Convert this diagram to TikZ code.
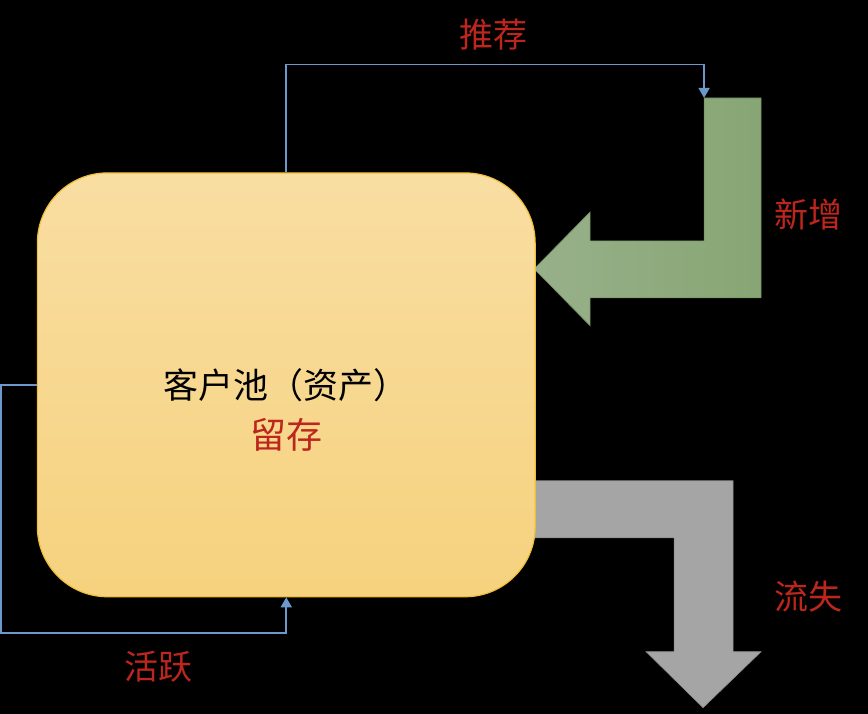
\documentclass[tikz,border=0pt]{standalone}
\usepackage{fontspec}
\newfontfamily\cjk{Noto Sans CJK SC}
\usetikzlibrary{arrows.meta,positioning}
\definecolor{flowred}{RGB}{188,38,28}
\definecolor{linkblue}{RGB}{108,152,204}
\definecolor{poolgold}{RGB}{240,190,60}
\begin{document}
\begin{tikzpicture}
[x=1pt,y=-1pt,%
  pool/.style={rectangle,rounded corners=70pt,minimum width=498pt,minimum height=424pt,
    draw=poolgold,line width=1.2pt,top color={rgb,255:red,249;green,222;blue,162},
    bottom color={rgb,255:red,246;green,210;blue,126}},%
  title/.style={font=\cjk\fontsize{35}{40}\selectfont,text=black,inner sep=0pt},%
  lbl/.style={font=\cjk\fontsize{34}{40}\selectfont,text=flowred,inner sep=0pt},%
  link/.style={draw=linkblue,line width=1.6pt,-{Triangle[length=10pt,width=11pt]}},%
  newflow/.style={left color={rgb,255:red,152;green,176;blue,138},
    right color={rgb,255:red,135;green,166;blue,116},draw={rgb,255:red,110;green,135;blue,92},line width=0.6pt},%
  lostflow/.style={fill={rgb,255:red,165;green,165;blue,165},draw={rgb,255:red,140;green,140;blue,140},line width=0.6pt}]
\fill[black] (0,0) rectangle (868,714);
\path[newflow] (704,98) -- (761,98) -- (761,298) -- (590,298) -- (590,326) -- (534,269)
  -- (590,212) -- (590,241) -- (704,241) -- cycle;
\coordinate (newin) at (704,98);
\path[lostflow] (533,481) -- (733,481) -- (733,652) -- (761,652) -- (703,708)
  -- (646,652) -- (674,652) -- (674,538) -- (533,538) -- cycle;
\node[pool] (pool) at (286,385) {};
\node[title] (pooltitle) at (pool.center) {客户池（资产）};
\node[lbl,font=\cjk\fontsize{36}{40}\selectfont,below=16pt of pooltitle] (keep) {留存};
\node[lbl] (recommend) at (493,35) {推荐};
\node[lbl] (newadd) at (808,215) {新增};
\node[lbl] (lost) at (808,597) {流失};
\node[lbl] (active) at (158,667) {活跃};
\draw[link] (pool.north) -- ++(0,-108) -| (newin);
\draw[link] (pool.west) -- ++(-36,0) -- ++(0,248) -| (pool.south);
\end{tikzpicture}
\end{document}
